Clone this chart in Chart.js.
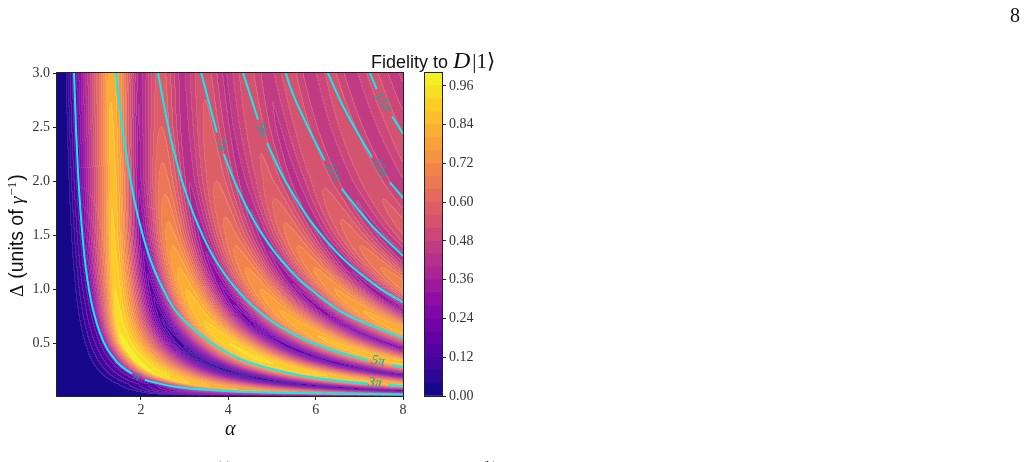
<!DOCTYPE html>
<html>
<head>
<meta charset="utf-8">
<title>Fidelity map</title>
<script src="https://cdn.jsdelivr.net/npm/chart.js@4"></script>
<style>
  html, body { margin: 0; padding: 0; background: #fff; overflow: hidden; }
  #map { position: absolute; left: 0; top: 0; }
  #bar { position: absolute; left: 400px; top: 0; }
</style>
</head>
<body>
<canvas id="map" width="1027" height="462"></canvas>
<canvas id="bar" width="100" height="462"></canvas>
<script>
// Axis ticks
const alphaTicks = [2, 4, 6, 8];
const deltaTicks = [0.5, 1.0, 1.5, 2.0, 2.5, 3.0];
const colorbarTicks = [0, 0.12, 0.24, 0.36, 0.48, 0.6, 0.72, 0.84, 0.96];
const fidelityLevels = [0, 0.04, 0.08, 0.12, 0.16, 0.2, 0.24, 0.28, 0.32, 0.36, 0.4, 0.44, 0.48,
  0.52, 0.56, 0.6, 0.64, 0.68, 0.72, 0.76, 0.8, 0.84, 0.88, 0.92, 0.96, 1];

// plasma colormap, evenly spaced
const plasma = ['#0d0887', '#41049d', '#6a00a8', '#8f0da4', '#b12a90', '#cc4778',
  '#e16462', '#f2844b', '#fca636', '#fcce25', '#f0f921'];

// Fringe map: sampled on rows of constant Delta. In a row the fringes are located by u = alpha * sqrt(Delta)
const rowDelta = [3, 2.5, 2, 1.5, 1, 0.7, 0.5, 0.35, 0.22, 0.12, 0.06, 0.02];
// u of the rising edge (three samples) and of the first maximum
const riseU = [
  [0.25, 0.5, 0.8, 2.25], [0.25, 0.5, 0.8, 2.08], [0.25, 0.5, 0.8, 1.9], [0.25, 0.5, 0.8, 1.65],
  [0.25, 0.5, 0.8, 1.4], [0.25, 0.5, 0.8, 1.22], [0.25, 0.5, 0.8, 1.12], [0.25, 0.5, 0.8, 1.1],
  [0.25, 0.5, 0.8, 1.08], [0.25, 0.5, 0.8, 1.1], [0.25, 0.45, 0.7, 1.12], [0.2, 0.38, 0.6, 1.3]
];
// u of the later minima and maxima at small Delta, and how far they drift with Delta
const fringeU = [1.95, 2.75, 3.6, 4.45, 5.3, 6.15, 7.0, 7.85, 8.65, 9.5, 10.3, 11.15, 12.0, 12.8, 13.6, 14.4];
const rowDrift = [1.5, 1.15, 0.82, 0.53, 0.3, 0.16, 0.1, 0.05, 0.02, 0, 0, 0];
// fidelity at those positions: rise x3, max, then min/max pairs
const rowFidelity = [
  [0, 0.03, 0.18, 0.83, 0.37, 0.58, 0.42, 0.55, 0.43, 0.54, 0.45, 0.54, 0.45, 0.53, 0.45, 0.53, 0.46, 0.53, 0.46, 0.53],
  [0, 0.03, 0.18, 0.85, 0.35, 0.60, 0.41, 0.57, 0.43, 0.55, 0.43, 0.54, 0.45, 0.54, 0.45, 0.53, 0.46, 0.53, 0.46, 0.53],
  [0, 0.03, 0.18, 0.87, 0.33, 0.66, 0.40, 0.60, 0.42, 0.57, 0.42, 0.55, 0.45, 0.55, 0.45, 0.54, 0.46, 0.53, 0.46, 0.53],
  [0, 0.03, 0.18, 0.89, 0.26, 0.74, 0.34, 0.66, 0.38, 0.66, 0.41, 0.62, 0.42, 0.58, 0.45, 0.55, 0.45, 0.54, 0.46, 0.54],
  [0, 0.03, 0.18, 0.92, 0.17, 0.84, 0.27, 0.76, 0.31, 0.76, 0.33, 0.72, 0.38, 0.62, 0.42, 0.58, 0.45, 0.55, 0.46, 0.55],
  [0, 0.03, 0.18, 0.95, 0.11, 0.88, 0.20, 0.82, 0.27, 0.82, 0.30, 0.80, 0.36, 0.69, 0.41, 0.62, 0.45, 0.58, 0.46, 0.55],
  [0, 0.03, 0.18, 0.97, 0.08, 0.92, 0.17, 0.85, 0.25, 0.85, 0.30, 0.82, 0.36, 0.70, 0.41, 0.62, 0.45, 0.58, 0.46, 0.55],
  [0, 0.03, 0.18, 0.97, 0.06, 0.93, 0.15, 0.87, 0.25, 0.85, 0.30, 0.82, 0.36, 0.70, 0.41, 0.62, 0.45, 0.58, 0.46, 0.55],
  [0, 0.03, 0.18, 0.96, 0.05, 0.90, 0.18, 0.83, 0.25, 0.85, 0.30, 0.82, 0.36, 0.70, 0.41, 0.62, 0.45, 0.58, 0.46, 0.55],
  [0, 0.03, 0.18, 0.87, 0.10, 0.82, 0.21, 0.81, 0.25, 0.81, 0.30, 0.81, 0.36, 0.70, 0.41, 0.62, 0.45, 0.58, 0.46, 0.55],
  [0, 0.03, 0.25, 0.78, 0.17, 0.70, 0.25, 0.70, 0.30, 0.70, 0.30, 0.70, 0.36, 0.70, 0.41, 0.62, 0.45, 0.58, 0.46, 0.55],
  [0, 0.03, 0.25, 0.60, 0.21, 0.50, 0.30, 0.50, 0.30, 0.50, 0.30, 0.50, 0.36, 0.50, 0.41, 0.50, 0.45, 0.50, 0.46, 0.50]
];

// Rotation-angle contours, null leaves the gap for the inline label
const piAlpha = [0.47, 0.515, 0.56, 0.675, 0.81, 1.06, 1.45, 1.80, 1.95, 2.09, 2.21, 2.78, 4.04, 5.53, 8.0];
const piDelta = [3.0, 2.47, 2.09, 1.44, 1.0, 0.6, 0.33, 0.22, null, 0.165, 0.15, 0.1, 0.06, 0.043, 0.03];
const pi3Alpha = [1.43, 1.57, 1.77, 1.93, 2.22, 2.51, 2.78, 3.42, 4.2, 5.53, 6.33, 7.2, 7.4, 7.66, 8.0];
const pi3Delta = [3.0, 2.52, 2.0, 1.68, 1.27, 1.0, 0.81, 0.565, 0.37, 0.215, 0.165, 0.128, null, 0.115, 0.106];
const pi5Alpha = [2.39, 2.67, 2.92, 3.24, 3.65, 4.11, 4.79, 5.53, 6.33, 7.2, 7.5, 7.75, 8.0];
const pi5Delta = [3.0, 2.42, 2.03, 1.66, 1.31, 1.04, 0.765, 0.577, 0.445, 0.345, null, 0.3, 0.283];
const pi7Alpha = [3.38, 3.74, 3.82, 3.9, 4.09, 4.5, 4.96, 5.53, 5.83, 6.56, 8.0];
const pi7Delta = [3.0, 2.45, null, 2.25, 2.05, 1.7, 1.4, 1.13, 1.02, 0.8, 0.55];
const pi9Alpha = [4.34, 4.68, 4.78, 4.89, 5.23, 5.41, 5.87, 6.56, 7.47, 8.0];
const pi9Delta = [3.0, 2.57, null, 2.35, 2.06, 1.93, 1.64, 1.31, 1.01, 0.88];
const pi11Alpha = [5.32, 5.41, 5.8, 6.21, 6.4, 6.6, 7.24, 8.0];
const pi11Delta = [3.0, 2.88, 2.52, 2.19, null, 1.93, 1.61, 1.31];
const pi13Alpha = [6.28, 6.63, 7.29, 7.5, 7.7, 8.0];
const pi13Delta = [3.0, 2.69, 2.22, null, 1.99, 1.85];
const pi15Alpha = [7.24, 7.4, 7.55, 7.75, 8.0];
const pi15Delta = [3.0, 2.85, null, 2.6, 2.44];

// Inline contour labels
const labelText = ['π', '3π', '5π', '7π', '9π', '11π', '13π', '15π'];
const labelAlpha = [1.91, 7.36, 7.43, 3.83, 4.77, 6.4, 7.47, 7.54];
const labelDelta = [0.2, 0.135, 0.338, 2.335, 2.47, 2.085, 2.12, 2.73];
const labelAngle = [20, 4, 8, 72, 70, 58, 58, 52];

function hexToRgb(hex) {
  return [1, 3, 5].map(i => parseInt(hex.slice(i, i + 2), 16));
}

function plasmaAt(t) {
  const p = Math.min(t, 0.9999) * (plasma.length - 1);
  const i = Math.floor(p);
  const a = hexToRgb(plasma[i]);
  const b = hexToRgb(plasma[i + 1]);
  return a.map((c, n) => Math.round(c + (b[n] - c) * (p - i)));
}

// One colour per filled contour band
const bandColors = fidelityLevels.slice(0, -1).map((lo, i) => plasmaAt((lo + fidelityLevels[i + 1]) / 2));

// Fringe positions and fidelities for one Delta, blended between the two nearest rows
function rowAt(delta) {
  let j = rowDelta.findIndex(d => d <= delta);
  if (j === -1) j = rowDelta.length - 1;
  if (j === 0) j = 1;
  const w = Math.min(1, Math.max(0, (rowDelta[j - 1] - delta) / (rowDelta[j - 1] - rowDelta[j])));
  const knots = r => riseU[r].concat(fringeU.map(u => u + rowDrift[r]));
  const ka = knots(j - 1);
  const kb = knots(j);
  return {
    u: ka.map((v, i) => v + (kb[i] - v) * w),
    f: rowFidelity[j - 1].map((v, i) => v + (rowFidelity[j][i] - v) * w)
  };
}

function fidelityAt(row, u) {
  const n = row.u.length;
  if (u <= row.u[0]) return row.f[0];
  if (u >= row.u[n - 1]) return row.f[n - 1];
  let i = 0;
  while (row.u[i + 1] < u) i++;
  const s = (u - row.u[i]) / (row.u[i + 1] - row.u[i]);
  const a = row.f[i];
  const b = row.f[i + 1];
  if (i < 3) return a + (b - a) * s;
  // rounded at a maximum, a bit sharper at a minimum
  const smooth = s * s * (3 - 2 * s);
  const peaked = b > a ? Math.sin(s * Math.PI / 2) : 1 - Math.sin((1 - s) * Math.PI / 2);
  return a + (b - a) * (smooth + peaked) / 2;
}

// Filled contour field behind the line datasets, pale seams where two bands meet
const fidelityField = {
  id: 'fidelityField',
  beforeDatasetsDraw(chart) {
    const area = chart.chartArea;
    const x = chart.scales.x;
    const y = chart.scales.y;
    const w = Math.round(area.right - area.left);
    const h = Math.round(area.bottom - area.top);
    const bands = new Uint8Array(w * h);
    for (let py = 0; py < h; py++) {
      const delta = y.getValueForPixel(area.top + py + 0.5);
      const row = rowAt(delta);
      const root = Math.sqrt(delta);
      for (let px = 0; px < w; px++) {
        const alpha = x.getValueForPixel(area.left + px + 0.5);
        const f = fidelityAt(row, alpha * root);
        bands[py * w + px] = Math.min(24, Math.floor(f / 0.04));
      }
    }
    const off = document.createElement('canvas');
    off.width = w;
    off.height = h;
    const octx = off.getContext('2d');
    const img = octx.createImageData(w, h);
    for (let py = 0; py < h; py++) {
      for (let px = 0; px < w; px++) {
        const b = bands[py * w + px];
        const seam = (px + 1 < w && bands[py * w + px + 1] !== b) || (py + 1 < h && bands[(py + 1) * w + px] !== b);
        const c = bandColors[b];
        const o = (py * w + px) * 4;
        for (let n = 0; n < 3; n++) {
          img.data[o + n] = seam ? c[n] + (255 - c[n]) * 0.13 : c[n];
        }
        img.data[o + 3] = 255;
      }
    }
    octx.putImageData(img, 0, 0);
    chart.ctx.drawImage(off, area.left, area.top);
  }
};

function drawRuns(ctx, runs, x, y) {
  let pen = x;
  runs.forEach(r => {
    ctx.font = r.font;
    ctx.fillText(r.text, pen, y + (r.dy || 0));
    pen += ctx.measureText(r.text).width + (r.gap || 0);
  });
}

// Contour labels, spines and all the figure text
const figureText = {
  id: 'figureText',
  afterDatasetsDraw(chart) {
    const { ctx, chartArea: area, scales } = chart;
    ctx.save();
    ctx.fillStyle = '#08aaa4';
    ctx.textAlign = 'center';
    ctx.textBaseline = 'middle';
    labelText.forEach((t, i) => {
      ctx.save();
      ctx.translate(scales.x.getPixelForValue(labelAlpha[i]), scales.y.getPixelForValue(labelDelta[i]));
      ctx.rotate(labelAngle[i] * Math.PI / 180);
      ctx.font = 'italic 14px "Liberation Serif"';
      ctx.fillText(t, 0, 0);
      ctx.restore();
    });
    ctx.strokeStyle = '#222';
    ctx.lineWidth = 1;
    ctx.strokeRect(area.left - 0.5, area.top - 0.5, area.right - area.left + 1, area.bottom - area.top + 1);

    ctx.fillStyle = '#111';
    ctx.textAlign = 'left';
    ctx.textBaseline = 'alphabetic';
    drawRuns(ctx, [
      { text: 'Fidelity to', font: '18px "Liberation Sans"', gap: 5 },
      { text: 'D', font: 'italic 24px "Liberation Serif"', gap: 2 },
      { text: '|1⟩', font: '21px "Liberation Serif"' }
    ], 371, 68);
    ctx.font = 'italic 20px "Liberation Serif"';
    ctx.fillText('α', 225, 435);
    ctx.font = '20px "Liberation Serif"';
    ctx.fillText('8', 1010, 22);
    ctx.font = '13px "Liberation Serif"';
    ctx.fillText('(a)', 217, 470);
    ctx.fillText('(b)', 482, 470);

    ctx.save();
    ctx.translate(23, 297);
    ctx.rotate(-Math.PI / 2);
    drawRuns(ctx, [
      { text: 'Δ', font: '19px "Liberation Serif"', gap: 6 },
      { text: '(units of ', font: '19.5px "Liberation Sans"' },
      { text: 'γ', font: 'italic 19px "Liberation Serif"', gap: 1 },
      { text: '−1', font: '13px "Liberation Serif"', dy: -7, gap: 1 },
      { text: ')', font: '19.5px "Liberation Sans"' }
    ], 0, 0);
    ctx.restore();
    ctx.restore();
  }
};

function contour(alpha, delta) {
  return {
    data: alpha.map((a, i) => ({ x: a, y: delta[i] })),
    showLine: true,
    borderColor: '#06f0f4',
    borderWidth: 2,
    pointRadius: 0,
    cubicInterpolationMode: 'monotone',
    spanGaps: false
  };
}

const tickFont = { family: 'Liberation Serif', size: 14 };

new Chart(document.getElementById('map'), {
  type: 'scatter',
  data: {
    datasets: [
      contour(piAlpha, piDelta),
      contour(pi3Alpha, pi3Delta),
      contour(pi5Alpha, pi5Delta),
      contour(pi7Alpha, pi7Delta),
      contour(pi9Alpha, pi9Delta),
      contour(pi11Alpha, pi11Delta),
      contour(pi13Alpha, pi13Delta),
      contour(pi15Alpha, pi15Delta)
    ]
  },
  options: {
    responsive: false,
    animation: false,
    events: [],
    layout: { padding: { left: 0, top: 73, right: 624, bottom: 0 } },
    plugins: { legend: { display: false }, tooltip: { enabled: false } },
    scales: {
      x: {
        type: 'linear',
        min: 0.08,
        max: 8,
        afterFit: s => { s.height = 66; },
        afterBuildTicks: s => { s.ticks = alphaTicks.map(v => ({ value: v })); },
        border: { display: false },
        grid: { drawOnChartArea: false, tickLength: 4, tickColor: '#222' },
        ticks: { font: tickFont, color: '#333', maxRotation: 0, padding: 2, callback: v => String(v) }
      },
      y: {
        type: 'linear',
        min: 0.015,
        max: 3,
        afterFit: s => { s.width = 57; },
        afterBuildTicks: s => { s.ticks = deltaTicks.map(v => ({ value: v })); },
        border: { display: false },
        grid: { drawOnChartArea: false, tickLength: 4, tickColor: '#222' },
        ticks: { font: tickFont, color: '#333', padding: 3, callback: v => v.toFixed(1) }
      }
    }
  },
  plugins: [fidelityField, figureText]
});

// Colour bar: one floating bar per contour band
new Chart(document.getElementById('bar'), {
  type: 'bar',
  data: {
    labels: ['fidelity'],
    datasets: bandColors.map((c, i) => ({
      data: [[fidelityLevels[i], fidelityLevels[i + 1]]],
      backgroundColor: `rgb(${c.join(',')})`,
      barPercentage: 1,
      categoryPercentage: 1,
      grouped: false
    }))
  },
  options: {
    responsive: false,
    animation: false,
    events: [],
    layout: { padding: { left: 25, top: 73, right: 0, bottom: 66 } },
    plugins: { legend: { display: false }, tooltip: { enabled: false } },
    scales: {
      x: { display: false },
      y: {
        position: 'right',
        min: 0,
        max: 1,
        afterFit: s => { s.width = 58; },
        afterBuildTicks: s => { s.ticks = colorbarTicks.map(v => ({ value: v })); },
        border: { display: false },
        grid: { drawOnChartArea: false, tickLength: 4, tickColor: '#222' },
        ticks: { font: tickFont, color: '#333', padding: 3, callback: v => v.toFixed(2) }
      }
    }
  },
  plugins: [{
    id: 'barFrame',
    afterDraw(chart) {
      const { ctx, chartArea: a } = chart;
      ctx.strokeStyle = '#222';
      ctx.lineWidth = 1;
      ctx.strokeRect(a.left - 0.5, a.top - 0.5, a.right - a.left + 1, a.bottom - a.top + 1);
    }
  }]
});
</script>
</body>
</html>
